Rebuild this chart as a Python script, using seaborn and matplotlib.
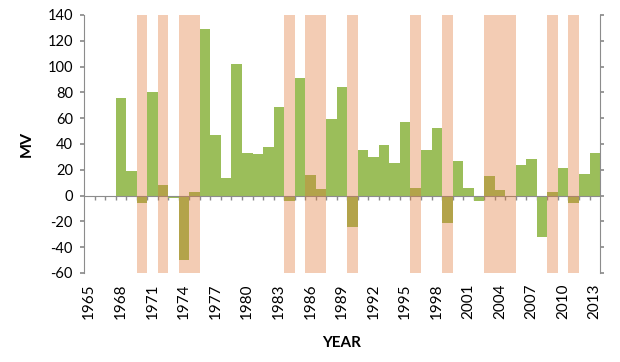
import numpy as np
import pandas as pd
import seaborn as sns
from matplotlib import pyplot as plt

# data
years = list(range(1965, 2014))
mv = [np.nan, np.nan, np.nan, 76, 19, -6, 80, 8, -2, -50, 2.5,
      129, 47, 14, 102, 33, 32, 38, 69, -4, 91, 16, 5, 59, 84,
      -24, 35, 30, 39, 25, 57, 6, 35, 52, -21, 27, 6, -4, 15, 4,
      0, 24, 28, -32, 2.5, 21, -6, 17, 33]
recession_years = [1970, 1972, 1974, 1975, 1984, 1986, 1987, 1990,
                   1996, 1999, 2003, 2004, 2005, 2009, 2011]
yticks = list(range(-60, 141, 20))

labels = [str(y) for y in years]
df = pd.DataFrame({'year': labels, 'mv': mv,
                   'rec': [1.0 if y in recession_years else 0.0 for y in years]})

sns.set_theme(style='white')
plt.rcParams['font.family'] = ['Lato', 'DejaVu Sans']
plt.rcParams['text.color'] = 'black'
plt.rcParams['xtick.labelcolor'] = 'black'
plt.rcParams['ytick.labelcolor'] = 'black'
plt.rcParams['axes.labelcolor'] = 'black'

grey = '#8c8c8c'
fig = plt.figure(figsize=(6.2, 3.62), dpi=100)
ax = fig.add_axes([0.1355, 0.246, 0.8323, 0.7126])

sns.barplot(data=df, x='year', y='mv', order=labels, color='#9BBE5A',
            saturation=1, width=1.0, linewidth=0, errorbar=None, ax=ax)

# recession shading on a secondary axis, drawn over the bars
ax2 = ax.twinx()
sns.barplot(data=df, x='year', y='rec', order=labels, color='#E07430',
            alpha=0.36, saturation=1, width=1.0, linewidth=0,
            errorbar=None, ax=ax2)
ax2.set_ylim(0, 1)
ax2.set_yticks(np.linspace(0, 1, len(yticks)))
ax2.set_yticklabels([])
ax2.set_ylabel('')
ax2.tick_params(axis='y', which='major', length=3, color=grey, direction='out')
for s in ['top', 'left', 'bottom']:
    ax2.spines[s].set_visible(False)
ax2.spines['right'].set_color(grey)
ax2.spines['right'].set_linewidth(0.8)

ax.set_ylim(-60, 140)
ax.set_yticks(yticks)
ax.set_yticklabels([str(t) for t in yticks], fontsize=10.5)
ax.tick_params(axis='y', length=3, color=grey, direction='out', pad=5, labelcolor='black')

ax.set_xlim(-0.5, len(years) - 0.5)
ax.set_xticks(range(0, len(years), 3))
ax.set_xticklabels(labels[::3], fontsize=10.5)
ax.set_xticks(np.arange(0.5, len(years) - 0.5, 1), minor=True)
ax.tick_params(axis='x', which='major', length=0, pad=63, labelrotation=90, labelcolor='black')
ax.tick_params(axis='x', which='minor', length=3, color=grey, direction='out', bottom=True)
plt.setp(ax.get_xticklabels(), rotation=90, ha='center', va='top')

ax.spines['bottom'].set_position(('data', 0))
ax.spines['bottom'].set_color(grey)
ax.spines['bottom'].set_linewidth(0.8)
ax.spines['left'].set_color(grey)
ax.spines['left'].set_linewidth(0.8)
ax.spines['top'].set_visible(False)
ax.spines['right'].set_visible(False)

ax.set_xlabel('')
ax.set_ylabel('MV', fontsize=11.5, fontweight='bold', labelpad=10, color='black')
fig.text(0.5516, 0.052, 'YEAR', fontsize=11, fontweight='bold', ha='center', va='center', color='black')

plt.savefig('out.png', dpi=100)
